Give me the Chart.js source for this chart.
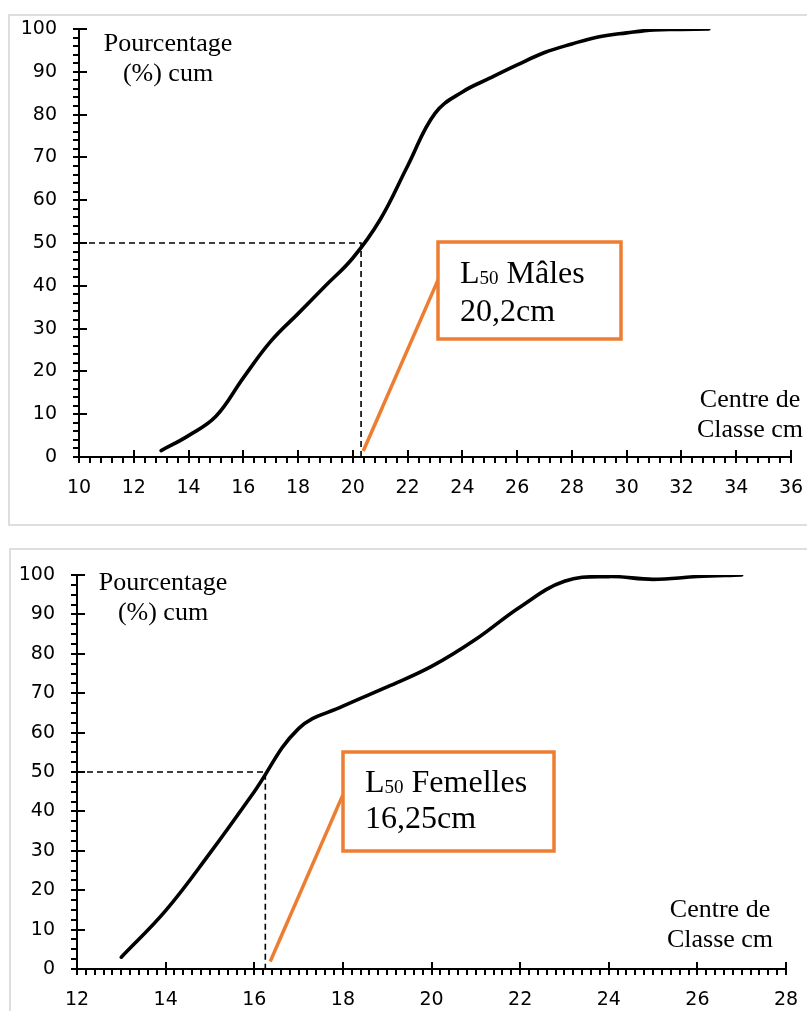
<!DOCTYPE html>
<html><head><meta charset="utf-8">
<script src="https://cdn.jsdelivr.net/npm/chart.js@4.4.1/dist/chart.umd.min.js"></script>
<style>
html,body{margin:0;padding:0;background:#fff;width:807px;height:1011px;overflow:hidden;position:relative}
.frame{position:absolute;border:2px solid #dedede;box-sizing:border-box}
canvas{position:absolute;left:0}
</style></head><body>
<div class="frame" style="left:8px;top:14px;width:830px;height:512px"></div>
<div class="frame" style="left:9px;top:548px;width:830px;height:500px"></div>
<canvas id="cA" width="807" height="540" style="top:0"></canvas>
<canvas id="cB" width="807" height="471" style="top:540px"></canvas>
<script>
// ---------- DATA ----------
const malesX = [13,14,15,16,17,18,19,20,21,22,23,24,25,26,27,28,29,30,31,32,33];
const malesY = [1.5,5,9.5,18.5,27,33.5,40,46.5,55.5,68,80.3,85.3,88.5,91.6,94.5,96.5,98.2,99.1,99.8,99.9,100];
const malesXTicks = [10,12,14,16,18,20,22,24,26,28,30,32,34,36];
const malesYTicks = [0,10,20,30,40,50,60,70,80,90,100];
const malesDashX = [10,20.3,20.3];
const malesDashY = [50,50,0];
const malesPointerX = [20.38,23.12];
const malesPointerY = [1.4,41.5];
const malesLabel = ['L','50',' Mâles','20,2cm'];

const femalesX = [13,14,15,16,17,18,19,20,21,22,23,24,25,26,27];
const femalesY = [3,14.8,29.4,45,61,66.7,71.6,76.8,83.7,91.9,98.4,99.6,98.9,99.6,100];
const femalesXTicks = [12,14,16,18,20,22,24,26,28];
const femalesYTicks = [0,10,20,30,40,50,60,70,80,90,100];
const femalesDashX = [12,16.25,16.25];
const femalesDashY = [50,50,0];
const femalesPointerX = [16.36,18.0];
const femalesPointerY = [1.9,44.2];
const femalesLabel = ['L','50',' Femelles','16,25cm'];

const yTitle = ['Pourcentage','(%) cum'];
const xTitle = ['Centre de','Classe cm'];

const pts = (xs, ys) => xs.map((v,i)=>({x:v,y:ys[i]}));

// ---------- DECORATION PLUGIN ----------
const deco = {
  id:'deco',
  beforeDatasetsDraw(chart, args, o){
    const {ctx, scales:{x,y}} = chart;
    ctx.save();
    ctx.strokeStyle='#000'; ctx.lineWidth=2; ctx.lineCap='butt';
    const top = y.getPixelForValue(y.max), bot = y.getPixelForValue(y.min);
    const lft = x.getPixelForValue(x.min), rgt = x.getPixelForValue(x.max);
    ctx.beginPath();
    ctx.moveTo(lft, top); ctx.lineTo(lft, bot+1);
    ctx.moveTo(lft-1, bot); ctx.lineTo(rgt+1, bot);
    let n = Math.round((y.max-y.min)/o.yMinor);
    for(let i=0;i<=n;i++){
      const v = y.min + i*o.yMinor;
      const p = Math.round(y.getPixelForValue(v));
      const major = Math.abs(v/o.yMajor - Math.round(v/o.yMajor))<1e-6;
      ctx.moveTo(lft-6, p); ctx.lineTo(lft+(major?8:0), p);
    }
    n = Math.round((x.max-x.min)/o.xMinor);
    for(let i=0;i<=n;i++){
      const v = x.min + i*o.xMinor;
      const p = Math.round(x.getPixelForValue(v));
      const major = Math.abs(v/o.xMajor - Math.round(v/o.xMajor))<1e-6;
      ctx.moveTo(p, bot-(major?7:0)); ctx.lineTo(p, bot+6);
    }
    ctx.stroke();
    ctx.fillStyle='#000';
    ctx.textAlign='center'; ctx.textBaseline='alphabetic';
    ctx.font='26px "Liberation Serif"';
    ctx.fillText(yTitle[0], o.yt.x, o.yt.y1);
    ctx.fillText(yTitle[1], o.yt.x, o.yt.y2);
    ctx.fillText(xTitle[0], o.xt.x, o.xt.y1);
    ctx.fillText(xTitle[1], o.xt.x, o.xt.y2);
    ctx.restore();
  },
  afterDatasetsDraw(chart, args, o){
    const {ctx} = chart;
    const b = o.box;
    ctx.save();
    ctx.fillStyle='#fff';
    ctx.fillRect(b.x, b.y, b.w, b.h);
    ctx.strokeStyle='#ED7D31'; ctx.lineWidth=3.5;
    ctx.strokeRect(b.x, b.y, b.w, b.h);
    ctx.fillStyle='#000'; ctx.textAlign='left'; ctx.textBaseline='alphabetic';
    const L = o.label;
    let tx = b.tx;
    ctx.font='32px "Liberation Serif"';
    ctx.fillText(L[0], tx, b.b1); tx += ctx.measureText(L[0]).width;
    ctx.font='19px "Liberation Serif"';
    ctx.fillText(L[1], tx, b.b1+1); tx += ctx.measureText(L[1]).width;
    ctx.font='32px "Liberation Serif"';
    ctx.fillText(L[2], tx, b.b1);
    ctx.fillText(L[3], b.tx, b.b2);
    ctx.restore();
  }
};

function makeChart(id, cfg){
  const tickFont = {family:'DejaVu Sans', size:19};
  const hidden = 'rgba(0,0,0,0)';
  return new Chart(document.getElementById(id), {
    type:'line',
    data:{datasets:[
      {data:pts(cfg.dashX,cfg.dashY), borderColor:'#000', borderWidth:1.6, borderDash:[6,4], pointRadius:0, tension:0, fill:false},
      {data:pts(cfg.ptrX,cfg.ptrY), borderColor:'#ED7D31', borderWidth:3.5, pointRadius:0, tension:0, fill:false},
      {data:pts(cfg.xs,cfg.ys), borderColor:'#000', borderWidth:3.6, pointRadius:0, tension:0.4, fill:false, borderCapStyle:'round'}
    ]},
    options:{
      responsive:false, animation:false, events:[],
      layout:{padding:cfg.pad},
      plugins:{legend:{display:false}, tooltip:{enabled:false}, deco:cfg.deco},
      scales:{
        x:{type:'linear', min:cfg.xTicks[0], max:cfg.xTicks[cfg.xTicks.length-1],
           afterBuildTicks:s=>{s.ticks=cfg.xTicks.map(v=>({value:v}));},
           afterFit:s=>{s.height=cfg.xH;},
           grid:{display:true, drawOnChartArea:false, drawTicks:true, tickLength:20, tickColor:hidden, color:hidden},
           border:{display:false},
           ticks:{padding:0, color:'#000', font:tickFont, maxRotation:0, autoSkip:false}},
        y:{type:'linear', min:cfg.yTicks[0], max:cfg.yTicks[cfg.yTicks.length-1],
           afterBuildTicks:s=>{s.ticks=cfg.yTicks.map(v=>({value:v}));},
           afterFit:s=>{s.width=cfg.yW;},
           grid:{display:true, drawOnChartArea:false, drawTicks:true, tickLength:22, tickColor:hidden, color:hidden},
           border:{display:false},
           ticks:{padding:0, color:'#000', font:tickFont}}
      }
    },
    plugins:[deco]
  });
}

makeChart('cA', {
  xs:malesX, ys:malesY, xTicks:malesXTicks, yTicks:malesYTicks,
  dashX:malesDashX, dashY:malesDashY, ptrX:malesPointerX, ptrY:malesPointerY,
  pad:{left:0, right:16, top:29, bottom:0}, yW:79, xH:83,
  deco:{yMinor:2, yMajor:10, xMinor:0.4, xMajor:2,
        yt:{x:168, y1:51, y2:81}, xt:{x:750, y1:407, y2:437},
        box:{x:438, y:242, w:183, h:97, tx:460, b1:283, b2:321}, label:malesLabel}
});

makeChart('cB', {
  xs:femalesX, ys:femalesY, xTicks:femalesXTicks, yTicks:femalesYTicks,
  dashX:femalesDashX, dashY:femalesDashY, ptrX:femalesPointerX, ptrY:femalesPointerY,
  pad:{left:0, right:21, top:35, bottom:0}, yW:77, xH:42,
  deco:{yMinor:2.5, yMajor:10, xMinor:0.2, xMajor:2,
        yt:{x:163, y1:50, y2:80}, xt:{x:720, y1:377, y2:407},
        box:{x:343, y:212, w:211, h:99, tx:365, b1:252, b2:288}, label:femalesLabel}
});
</script>
</body></html>
